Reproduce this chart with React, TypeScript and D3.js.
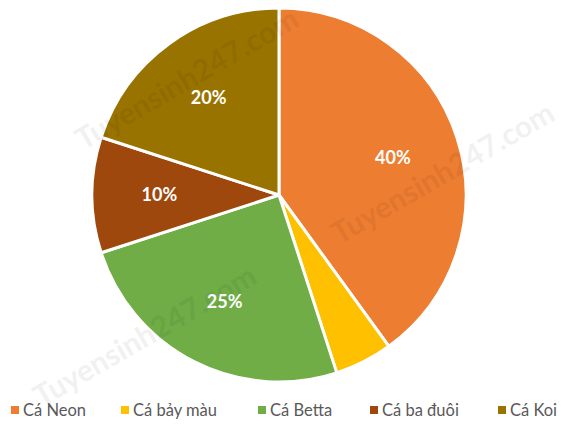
import React from "react";
import * as d3 from "d3";

const categories = ["Cá Neon", "Cá bảy màu", "Cá Betta", "Cá ba đuôi", "Cá Koi"];
const values = [40, 5, 25, 10, 20];
const colors = ["#ED7D31", "#FFC000", "#70AD47", "#9E480E", "#997300"];
const watermarks = ["Tuyensinh247.com", "Tuyensinh247.com", "Tuyensinh247.com"];

const W = 569;
const H = 436;
const cx = 279;
const cy = 195;
const R = 187;

export default function App() {
  const pie = d3.pie<number>().sort(null).value((d) => d);
  const arcs = pie(values);
  const arc = d3.arc<d3.PieArcDatum<number>>().innerRadius(0).outerRadius(R);
  const labelArc = d3.arc<d3.PieArcDatum<number>>().innerRadius(R * 0.64).outerRadius(R * 0.64);
  const total = d3.sum(values);

  const legendPos = [11, 121, 258, 370, 498];
  const wmPos = [
    [192, 88],
    [448, 182],
    [150, 345],
  ];

  return (
    <div style={{ position: "absolute", left: 0, top: 0 }}>
      <svg width={W} height={H} style={{ display: "block", fontFamily: "Lato, 'Open Sans', sans-serif" }}>
        <rect width={W} height={H} fill="#fff" />
        <g transform={`translate(${cx},${cy})`}>
          {arcs.map((a, i) => (
            <path key={i} d={arc(a) || ""} fill={colors[i]} stroke="#fff" strokeWidth={3} strokeLinejoin="round" />
          ))}
          {arcs.map((a, i) => {
            const pct = Math.round((a.data / total) * 100);
            if (pct < 8) return null;
            const [x, y] = labelArc.centroid(a);
            return (
              <text key={i} x={x} y={y} dy="0.35em" textAnchor="middle" fill="#fff" fontWeight="bold" fontSize={18}>
                {pct}%
              </text>
            );
          })}
        </g>
        {watermarks.map((t, i) => (
          <text
            key={i}
            transform={`translate(${wmPos[i][0]},${wmPos[i][1]}) rotate(-30)`}
            textAnchor="middle"
            fontSize={30}
            fontWeight="bold"
            fill="#000"
            opacity={0.05}
          >
            {t}
          </text>
        ))}
        {categories.map((c, i) => (
          <g key={c} transform={`translate(${legendPos[i]},410)`}>
            <rect x={0} y={-4} width={8} height={8} fill={colors[i]} />
            <text x={12} y={0} dy="0.35em" fontSize={16.5} fill="#595959">
              {c}
            </text>
          </g>
        ))}
      </svg>
    </div>
  );
}
